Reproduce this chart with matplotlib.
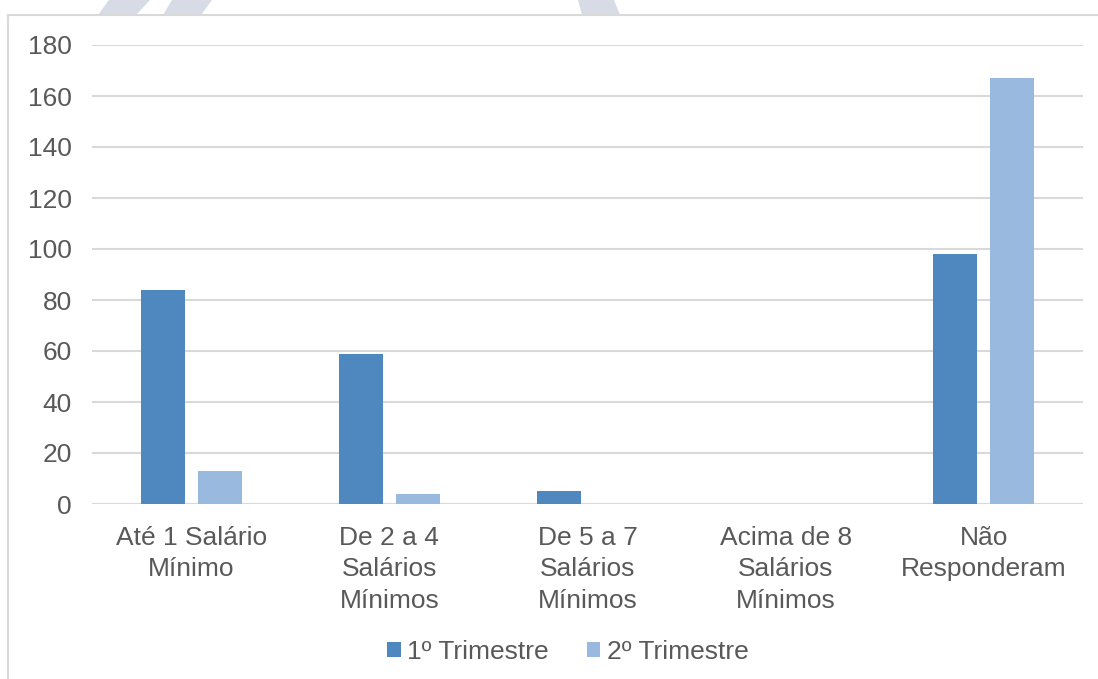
import matplotlib
matplotlib.use("Agg")
import matplotlib.pyplot as plt
import numpy as np
from matplotlib.patches import Polygon, Patch
from matplotlib.lines import Line2D

categories = ["Até 1 Salário\nMínimo", "De 2 a 4\nSalários\nMínimos", "De 5 a 7\nSalários\nMínimos",
              "Acima de 8\nSalários\nMínimos", "Não\nResponderam"]
series_names = ["1º Trimestre", "2º Trimestre"]
tri1 = [84, 59, 5, 0, 98]
tri2 = [13, 4, 0, 0, 167]
yticks = [0, 20, 40, 60, 80, 100, 120, 140, 160, 180]

c1 = "#4F88BE"
c2 = "#99B9DF"
txt = "#595959"
grid = "#D9D9D9"

plt.rcParams['font.family'] = ['Liberation Sans', 'DejaVu Sans']

W, H = 1098, 679
fig = plt.figure(figsize=(W/100, H/100), dpi=100)

# watermark shapes at top
wm = "#D6DBE6"
for pts in [[(98, 15), (109, 0), (150, 0), (136, 15)],
            [(163, 15), (172, 0), (212, 0), (201, 15)],
            [(582, 15), (578, 0), (614, 0), (620, 15)]]:
    fig.patches.append(Polygon([(x / W, 1 - y / H) for x, y in pts], closed=True,
                               transform=fig.transFigure, facecolor=wm, edgecolor='none', zorder=0))
# chart frame lines (left and top)
fig.lines.append(Line2D([7.5 / W, 7.5 / W], [0, 1 - 15 / H], transform=fig.transFigure, color=grid, lw=1.5))
fig.lines.append(Line2D([7.5 / W, 1], [1 - 15 / H, 1 - 15 / H], transform=fig.transFigure, color=grid, lw=1.5))

ax = fig.add_axes([92 / W, 1 - 504 / H, (1083 - 92) / W, (504 - 45) / H])
x = np.arange(len(categories))
bw = 0.222
off = 0.144
ax.bar(x - off, tri1, width=bw, color=c1, label=series_names[0], zorder=3)
ax.bar(x + off, tri2, width=bw, color=c2, label=series_names[1], zorder=3)

ax.set_xlim(-0.5, len(categories) - 0.5)
ax.set_ylim(0, 180)
ax.set_yticks(yticks)
ax.set_yticklabels([str(v) for v in yticks])
ax.set_xticks(x)
ax.set_xticklabels(categories, linespacing=1.38)
ax.tick_params(axis='both', length=0, labelsize=19, colors=txt)
ax.tick_params(axis='y', pad=14.5)
ax.tick_params(axis='x', pad=16)
ax.grid(axis='y', color=grid, lw=1.5, zorder=0)
for s in ax.spines.values():
    s.set_visible(False)
ax.axhline(0, color=grid, lw=1.5, zorder=2)

handles = [Patch(facecolor=c1), Patch(facecolor=c2)]
fig.legend(handles, series_names, loc='center', bbox_to_anchor=(568 / W, 1 - 652 / H),
           ncol=2, frameon=False, fontsize=19, labelcolor=txt, handlelength=0.5, handleheight=0.5,
           handletextpad=0.25, columnspacing=1.45)

fig.savefig("out.png", dpi=100)
